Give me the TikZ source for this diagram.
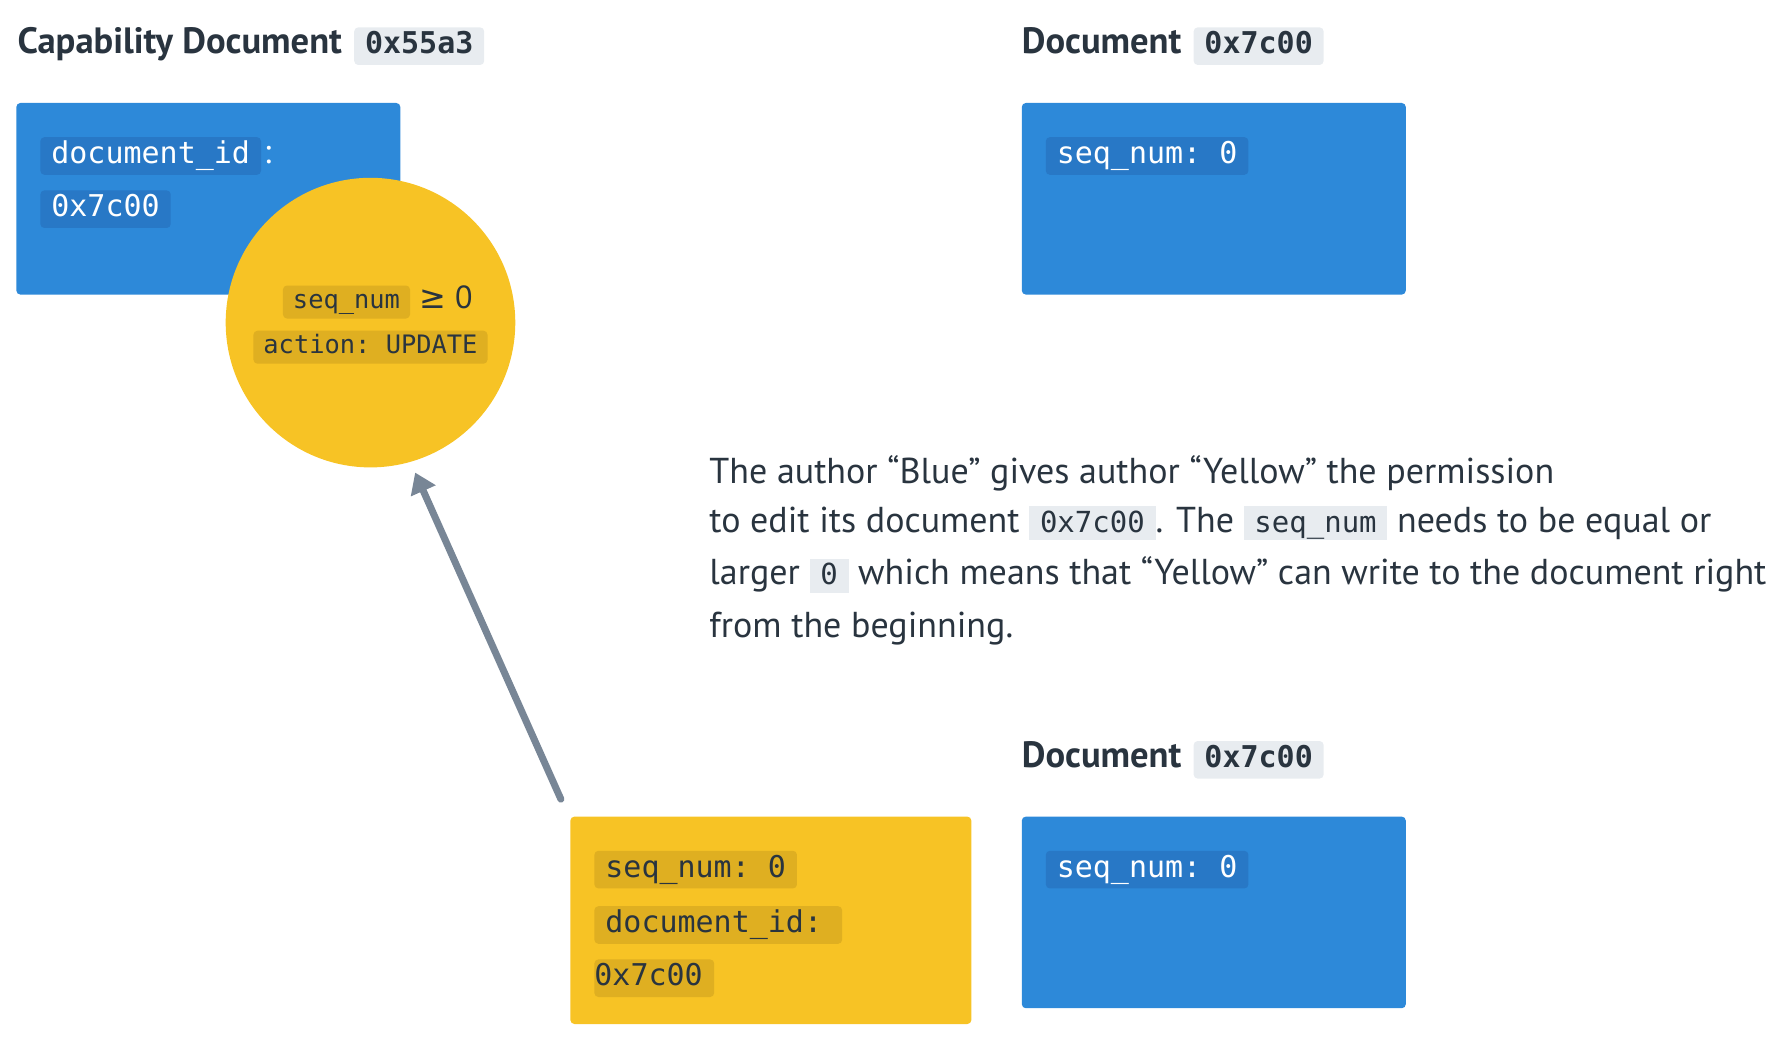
\documentclass[tikz,border=0pt]{standalone}
\usepackage{fontspec}
\setmainfont{PT Sans}
\setmonofont{DejaVu Sans Mono}
\newfontfamily\symfont{DejaVu Sans}
\usetikzlibrary{positioning,arrows.meta}

\definecolor{docblue}{HTML}{2D89D9}
\definecolor{chipblue}{HTML}{2878C6}
\definecolor{capyellow}{HTML}{F7C325}
\definecolor{chipyellow}{HTML}{DFAF21}
\definecolor{chipgray}{HTML}{E8ECF0}
\definecolor{inkdark}{HTML}{29343F}
\definecolor{arrowgray}{HTML}{788696}

\newcommand{\inlinecode}[1]{{\setlength{\fboxsep}{0pt}\colorbox{chipgray}{\rule[-4pt]{0pt}{17pt}\hspace{5.4pt}\fontsize{14.5}{18}\selectfont\ttfamily #1\hspace{5.4pt}}}}

\begin{document}
\begin{tikzpicture}[x=0.57pt,y=-0.57pt,
                    every node/.style={text=inkdark},
                    doc title/.style={font=\fontsize{18.3}{22}\selectfont\bfseries,inner sep=0pt,anchor=base west},
                    title chip/.style={fill=chipgray,rounded corners=2pt,inner xsep=5.4pt,inner ysep=2.1pt,
                                       text height=11pt,text depth=3.6pt,font=\fontsize{15}{18}\selectfont\ttfamily\bfseries},
                    doc box/.style={fill=docblue,rounded corners=2pt,anchor=north west,inner sep=0pt,
                                    minimum width=192pt,minimum height=95.8pt},
                    token box/.style={doc box,fill=capyellow,minimum width=200.5pt,minimum height=103.7pt},
                    code chip/.style={fill=chipblue,text=white,rounded corners=2pt,inner xsep=5.5pt,inner ysep=2.1pt,
                                      text height=11pt,text depth=3.6pt,font=\fontsize{15}{18}\selectfont\ttfamily},
                    yellow chip/.style={code chip,fill=chipyellow,text=inkdark},
                    small chip/.style={yellow chip,inner xsep=5pt,text height=9.3pt,text depth=3pt,
                                       font=\fontsize{12.7}{15}\selectfont\ttfamily},
                    body/.style={font=\fontsize{18}{22}\selectfont,inner sep=0pt,anchor=base west},
                    grant arrow/.style={draw=arrowgray,line width=3.5pt,line cap=round,
                                        -{Triangle[length=10pt,width=13pt]}}]

  \useasboundingbox (0,0) rectangle (1563.2,910.5);

  % capability document
  \node[doc title] (captitle) at (15,47) {Capability Document};
  \node[title chip,base right=5.7pt of captitle] (capid) {0x55a3};
  \node[doc box] (capdoc) at (14,90) {};
  \node[code chip,below right=17.1pt and 12pt of capdoc.north west] (capfield) {document\_id};
  \node[base right=1pt of capfield,inner sep=0pt,text=white,font=\fontsize{17}{20}\selectfont] (capcolon) {:};
  \node[code chip,below right=7.4pt and 0pt of capfield.south west] (capvalue) {0x7c00};

  \node[circle,fill=capyellow,minimum size=144.8pt,inner sep=0pt] (cap) at (325,283) {};
  \node[small chip] (capaction) at ([yshift=-12.3pt]cap.center) {action: UPDATE};
  \node[small chip,above=5.7pt of capaction,xshift=-12pt] (capseq) {seq\_num};
  \node[base right=4.5pt of capseq,inner sep=0pt,font=\fontsize{16}{20}\selectfont] (capgeq) {{\symfont ≥} 0};

  % document before
  \node[doc title] (doctitle) at (896,47) {Document};
  \node[title chip,base right=5.7pt of doctitle] (docid) {0x7c00};
  \node[doc box] (doc) at (896,90) {};
  \node[code chip,below right=17.1pt and 12pt of doc.north west] (docseq) {seq\_num: 0};

  % explanation
  \node[body] (line1) at (622,424) {The author “Blue” gives author “Yellow” the permission};
  \node[body] (line2) at (622,467) {to edit its document \inlinecode{0x7c00}. The \inlinecode{seq\_num} needs to be equal or};
  \node[body] (line3) at (622,513) {larger \inlinecode{0} which means that “Yellow” can write to the document right};
  \node[body] (line4) at (622,559) {from the beginning.};

  % document after
  \node[doc title] (newtitle) at (896,673) {Document};
  \node[title chip,base right=5.7pt of newtitle] (newid) {0x7c00};
  \node[doc box] (newdoc) at (896,716) {};
  \node[code chip,below right=17.1pt and 12pt of newdoc.north west] (newseq) {seq\_num: 0};

  % operation by yellow
  \node[token box] (token) at (500,716) {};
  \node[yellow chip,below right=17.1pt and 12pt of token.north west] (tokseq) {seq\_num: 0};
  \node[yellow chip,below right=8.5pt and 0pt of tokseq.south west] (tokfield) {document\_id:\hspace{4.5pt}\null};
  \node[yellow chip,inner xsep=0pt,below right=7.4pt and 0pt of tokfield.south west] (tokvalue) {0x7c00\hspace{5.7pt}\null};

  \coordinate (grantstart) at (492,701);
  \draw[grant arrow,shorten >=5.7pt] (grantstart) -- (cap.286);
\end{tikzpicture}
\end{document}
